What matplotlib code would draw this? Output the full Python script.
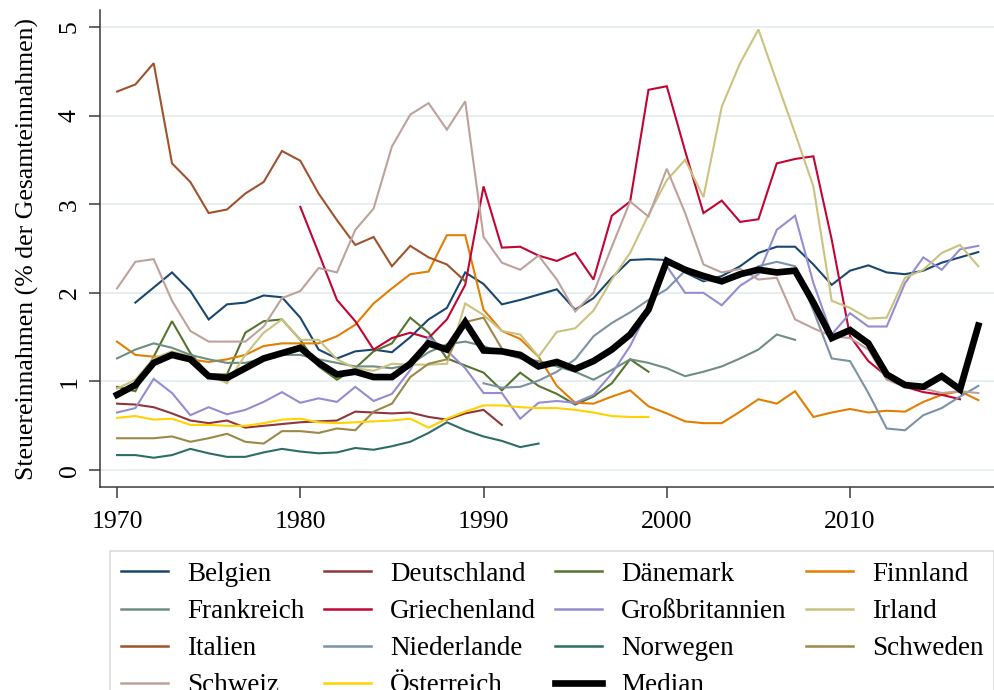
import numpy as np
import matplotlib
matplotlib.use("Agg")
import matplotlib.pyplot as plt

nan = np.nan
years = list(range(1970, 2018))

belgien = [nan, 1.89, 2.06, 2.23, 2.02, 1.70, 1.87, 1.89, 1.97, 1.95, 1.72, 1.36, 1.26, 1.34, 1.36, 1.33,
           1.50, 1.70, 1.83, 2.23, 2.10, 1.87, 1.92, 1.98, 2.04, 1.81, 1.94, 2.17, 2.37, 2.38, 2.37, 2.23,
           2.13, 2.19, 2.30, 2.45, 2.52, 2.52, 2.32, 2.09, 2.25, 2.31, 2.23, 2.21, 2.25, 2.34, 2.40, 2.46]
deutschland = [0.75, 0.74, 0.71, 0.64, 0.56, 0.53, 0.56, 0.48, 0.50, 0.52, 0.54, 0.55, 0.56, 0.66, 0.65, 0.64,
               0.65, 0.60, 0.57, 0.64, 0.68, 0.51] + [nan] * 26
daenemark = [0.94, 0.89, 1.28, 1.68, 1.32, 1.08, 1.08, 1.55, 1.68, 1.70, 1.47, 1.17, 1.02, 1.15, 1.34, 1.43,
             1.72, 1.55, 1.26, 1.18, 1.10, 0.90, 1.10, 0.95, 0.86, 0.74, 0.83, 0.98, 1.25, 1.11] + [nan] * 18
finnland = [1.45, 1.30, 1.28, 1.28, 1.25, 1.22, 1.25, 1.30, 1.40, 1.43, 1.43, 1.43, 1.51, 1.64, 1.88, 2.05,
            2.21, 2.24, 2.65, 2.65, 1.81, 1.57, 1.48, 1.28, 0.95, 0.76, 0.75, 0.83, 0.90, 0.72, 0.64, 0.55,
            0.53, 0.53, 0.66, 0.80, 0.75, 0.89, 0.60, 0.65, 0.69, 0.65, 0.67, 0.66, 0.77, 0.85, 0.89, 0.79]
frankreich = [1.26, 1.36, 1.43, 1.38, 1.30, 1.25, 1.21, 1.21, 1.26, 1.30, 1.30, 1.25, 1.21, 1.17, 1.17, 1.15,
              1.19, 1.33, 1.42, 1.45, 1.40, 1.32, 1.26, 1.23, 1.17, 1.11, 1.02, 1.13, 1.25, 1.21, 1.15, 1.06,
              1.11, 1.17, 1.26, 1.36, 1.53, 1.47] + [nan] * 10
griechenland = [nan] * 10 + [2.97, 2.45, 1.92, 1.68, 1.36, 1.49, 1.55, 1.49, 1.70, 2.09, 3.20, 2.51, 2.52,
                             2.42, 2.36, 2.45, 2.15, 2.87, 3.03, 4.29, 4.33, 3.60, 2.90, 3.04, 2.80, 2.83,
                             3.46, 3.51, 3.54, 2.60, 1.51, 1.23, 1.06, 0.94, 0.88, 0.85, 0.80, nan]
grossbritannien = [0.65, 0.70, 1.03, 0.87, 0.62, 0.71, 0.63, 0.68, 0.77, 0.88, 0.76, 0.81, 0.77, 0.94, 0.78,
                   0.86, 1.13, 1.50, 1.35, 1.15, 0.87, 0.87, 0.58, 0.76, 0.78, 0.76, 0.85, 1.09, 1.40, 1.81,
                   2.30, 2.00, 2.00, 1.86, 2.08, 2.21, 2.71, 2.87, 2.11, 1.53, 1.77, 1.62, 1.62, 2.11, 2.40,
                   2.26, 2.49, 2.53]
irland = [0.92, 1.02, 1.26, 1.34, 1.28, 1.08, 0.98, 1.30, 1.55, 1.70, 1.47, 1.47, 1.25, 1.15, 1.12, 1.20,
          1.19, 1.19, 1.20, 1.88, 1.75, 1.57, 1.53, 1.28, 1.56, 1.60, 1.80, 2.15, 2.45, 2.88, 3.27, 3.50,
          3.08, 4.10, 4.59, 4.97, 4.38, 3.80, 3.20, 1.91, 1.83, 1.71, 1.72, 2.17, 2.26, 2.45, 2.54, 2.30]
italien = [4.27, 4.35, 4.59, 3.46, 3.25, 2.90, 2.94, 3.12, 3.25, 3.60, 3.49, 3.12, 2.82, 2.54, 2.63, 2.30,
           2.53, 2.40, 2.32, 2.13] + [nan] * 28
niederlande = [nan] * 20 + [0.98, 0.93, 0.94, 1.01, 1.11, 1.25, 1.51, 1.66, 1.78, 1.92, 2.04, 2.25, 2.15,
                            2.11, 2.18, 2.30, 2.35, 2.30, 1.80, 1.26, 1.23, 0.87, 0.47, 0.45, 0.62, 0.70,
                            0.83, 0.95]
norwegen = [0.17, 0.17, 0.14, 0.17, 0.24, 0.19, 0.15, 0.15, 0.20, 0.24, 0.21, 0.19, 0.20, 0.25, 0.23, 0.27,
            0.32, 0.42, 0.54, 0.45, 0.38, 0.33, 0.26, 0.30] + [nan] * 24
schweden = [0.36, 0.36, 0.36, 0.38, 0.32, 0.36, 0.41, 0.32, 0.30, 0.44, 0.44, 0.42, 0.47, 0.45, 0.66, 0.75,
            1.05, 1.20, 1.25, 1.67, 1.72, 1.37] + [nan] * 26
schweiz = [2.05, 2.35, 2.38, 1.91, 1.57, 1.45, 1.45, 1.45, 1.62, 1.94, 2.02, 2.28, 2.23, 2.71, 2.95, 3.65,
           4.01, 4.14, 3.84, 4.16, 2.63, 2.34, 2.26, 2.42, 2.15, 1.79, 2.00, 2.52, 3.03, 2.86, 3.40, 2.90,
           2.32, 2.23, 2.27, 2.15, 2.17, 1.70, 1.60, 1.51, 1.49, 1.36, 1.02, 0.94, 0.92, 0.87, 0.89, 0.87]
oesterreich = [0.59, 0.61, 0.57, 0.58, 0.51, 0.51, 0.50, 0.50, 0.53, 0.57, 0.58, 0.54, 0.53, 0.54, 0.55, 0.56,
               0.58, 0.48, 0.58, 0.66, 0.73, 0.73, 0.71, 0.70, 0.70, 0.68, 0.65, 0.61, 0.60, 0.60] + [nan] * 18
median = [0.85, 0.96, 1.21, 1.30, 1.25, 1.06, 1.04, 1.15, 1.26, 1.32, 1.38, 1.21, 1.08, 1.11, 1.05, 1.05,
          1.20, 1.43, 1.36, 1.67, 1.35, 1.34, 1.30, 1.17, 1.22, 1.14, 1.23, 1.36, 1.53, 1.81, 2.36, 2.26,
          2.19, 2.13, 2.21, 2.26, 2.23, 2.25, 1.89, 1.49, 1.58, 1.43, 1.08, 0.96, 0.94, 1.06, 0.91, 1.63]

labels = ["Belgien", "Deutschland", "Dänemark", "Finnland", "Frankreich", "Griechenland",
          "Großbritannien", "Irland", "Italien", "Niederlande", "Norwegen", "Schweden",
          "Schweiz", "Österreich", "Median"]
series = [belgien, deutschland, daenemark, finnland, frankreich, griechenland, grossbritannien,
          irland, italien, niederlande, norwegen, schweden, schweiz, oesterreich, median]
colors = ["#1a476f", "#90353b", "#55752f", "#e37e00", "#6e8e84", "#c10534", "#938dd2",
          "#cac27e", "#a0522d", "#7b92a8", "#2d6d66", "#9c8847", "#bfa19c", "#ffd200", "#000000"]
xticks = [1970, 1980, 1990, 2000, 2010]
yticks = [0, 1, 2, 3, 4, 5]

plt.rcParams['font.family'] = ['Liberation Serif', 'DejaVu Serif']
FS = 18.5
LFS = 19.5

fig = plt.figure(figsize=(9.95, 6.9), dpi=100)
ax = fig.add_axes([100 / 995, 1 - 487 / 690, 895 / 995, 477 / 690])

handles = {}
for lab, s, c in zip(labels, series, colors):
    lw = 4.8 if lab == "Median" else 1.5
    z = 5 if lab == "Median" else 2
    h, = ax.plot(years, s, color=c, lw=lw, zorder=z, label=lab, solid_joinstyle='miter')
    handles[lab] = h

ax.set_xlim(1969.07, 2017.91)
ax.set_ylim(-0.19, 5.19)
ax.set_xticks(xticks)
ax.set_yticks(yticks)
ax.grid(axis='y', color='#e6eef0', lw=1.3, zorder=0)
ax.grid(axis='x', visible=False)
for sp in ['top', 'right']:
    ax.spines[sp].set_visible(False)
for sp in ['left', 'bottom']:
    ax.spines[sp].set_color('#3a3a3a')
    ax.spines[sp].set_linewidth(1.1)
ax.tick_params(axis='both', labelsize=FS, color='#3a3a3a', length=8, width=1.1)
ax.tick_params(axis='x', pad=9)
ax.tick_params(axis='y', pad=6, labelrotation=90)
for t in ax.get_yticklabels():
    t.set_va('center')
ax.set_ylabel("Steuereinnahmen (% der Gesamteinnahmen)", fontsize=FS, labelpad=14)

order = ["Belgien", "Frankreich", "Italien", "Schweiz",
         "Deutschland", "Griechenland", "Niederlande", "Österreich",
         "Dänemark", "Großbritannien", "Norwegen", "Median",
         "Finnland", "Irland", "Schweden"]
leg = fig.legend([handles[k] for k in order], order, ncol=4, loc='upper left',
                 bbox_to_anchor=(110 / 995, 1 - 551 / 690), borderaxespad=0, fontsize=LFS,
                 frameon=True, fancybox=False, edgecolor='#dcdcdc', framealpha=1,
                 handlelength=1.75, handletextpad=0.7, columnspacing=0.7,
                 labelspacing=0.45, borderpad=0.4)
leg.get_frame().set_linewidth(1.2)
for lh in leg.get_lines():
    if lh.get_label() != "Median":
        lh.set_linewidth(1.8)

fig.savefig("out.png", dpi=100)
